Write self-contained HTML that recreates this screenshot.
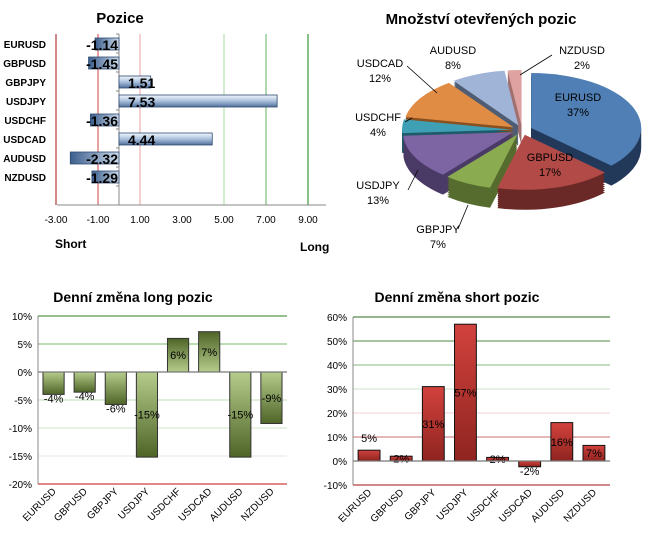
<!DOCTYPE html>
<html><head><meta charset="utf-8"><style>
html,body{margin:0;padding:0;background:#fff;}
svg{display:block;font-family:"Liberation Sans",sans-serif;}
</style></head><body>
<svg id="s" width="653" height="538" viewBox="0 0 653 538">
<defs>
<linearGradient id="gBlue" x1="0" y1="0" x2="0" y2="1"><stop offset="0" stop-color="#f4f8fc"/><stop offset="0.5" stop-color="#a9c1dd"/><stop offset="1" stop-color="#4f6f9a"/></linearGradient>
<linearGradient id="gBlueN" x1="0" y1="0" x2="1" y2="0"><stop offset="0" stop-color="#3d5f8d"/><stop offset="1" stop-color="#c9d8ea"/></linearGradient>
<linearGradient id="gGreen" x1="0" y1="0" x2="0" y2="1"><stop offset="0" stop-color="#b6cc8c"/><stop offset="1" stop-color="#4f6528"/></linearGradient>
<linearGradient id="gGreenN" x1="0" y1="0" x2="0" y2="1"><stop offset="0" stop-color="#4f6528"/><stop offset="1" stop-color="#b6cc8c"/></linearGradient>
<linearGradient id="gRed" x1="0" y1="0" x2="0" y2="1"><stop offset="0" stop-color="#d2423d"/><stop offset="1" stop-color="#8f2420"/></linearGradient>
</defs>
<g id="pos"></g>
<g id="pie"></g>
<g id="lng"></g>
<g id="sht"></g>
</svg>
<script>
const NS="http://www.w3.org/2000/svg";
const posCats=["EURUSD","GBPUSD","GBPJPY","USDJPY","USDCHF","USDCAD","AUDUSD","NZDUSD"];
const posVals=[-1.14,-1.45,1.51,7.53,-1.36,4.44,-2.32,-1.29];
const posTicks=[-3,-1,1,3,5,7,9];
const pieCats=["EURUSD","GBPUSD","GBPJPY","USDJPY","USDCHF","USDCAD","AUDUSD","NZDUSD"];
const pieVals=[37,17,7,13,4,12,8,2];
const longVals=[-4,-3.6,-5.8,-15.2,6,7.2,-15.2,-9.2];
const longTicks=[10,5,0,-5,-10,-15,-20];
const shortVals=[4.5,2,31,57,1.5,-2.4,16,6.5];
const shortTicks=[60,50,40,30,20,10,0,-10];

function el(p,t,a,txt){const e=document.createElementNS(NS,t);for(const k in a)e.setAttribute(k,a[k]);if(txt!==undefined)e.textContent=txt;p.appendChild(e);return e;}

// ---- Positions chart
(function(){
const g=document.getElementById('pos');
const x=v=>119+v*21;
const y=i=>44+i*19;
let t=el(g,'text',{x:120,y:23,'font-size':15,'font-weight':'bold','text-anchor':'middle'},'Pozice');

const lineCol={"-3":"#a01010","-1":"#d04040","1":"#e8a0a0","3":"none","5":"#a8d8a0","7":"#60b060","9":"#108010"};
posTicks.forEach(v=>{
 const c=lineCol[String(v)];
 if(c!=="none"){let l=el(g,'line',{x1:x(v),x2:x(v),y1:34,y2:205,stroke:c,'stroke-width':1});}
 let tl=el(g,'text',{x:x(v),y:223,'font-size':10,'text-anchor':'middle'},v.toFixed(2));
 
});
el(g,'line',{x1:57,x2:326,y1:205,y2:205,stroke:'#888'});
el(g,'line',{x1:119,x2:119,y1:34,y2:205,stroke:'#888'});
for(let i=0;i<=9;i++)el(g,'line',{x1:116,x2:119,y1:34+i*19,y2:34+i*19,stroke:'#888'});
posCats.forEach((c,i)=>{
 let l=el(g,'text',{x:46,y:y(i)+4,'font-size':10,'font-weight':'bold','text-anchor':'end'},c);
 
 const v=posVals[i];const x0=Math.min(x(0),x(v)),w=Math.abs(x(v)-x(0));
 let b=el(g,'rect',{x:x0,y:y(i)-6,width:w,height:12,fill:v<0?'url(#gBlueN)':'url(#gBlue)',stroke:'#2f4a70','stroke-width':0.8});
 
 let vl=el(g,'text',{x:v<0?118:128,y:y(i)+6,'font-size':14,'font-weight':'bold','text-anchor':v<0?'end':'start'},v.toFixed(2));
 
});
let s=el(g,'text',{x:55,y:248,'font-size':12,'font-weight':'bold'},'Short');
let lg=el(g,'text',{x:300,y:251,'font-size':12,'font-weight':'bold'},'Long');
})();

// ---- Pie
(function(){
const g=document.getElementById('pie');
let t=el(g,'text',{x:481,y:24,'font-size':15,'font-weight':'bold','text-anchor':'middle'},'Množství otevřených pozic');

const top=['#4f7fb4','#b24b47','#8aab50','#7d65a4','#3e9fb5','#e08c45','#9fb4d6','#e0a2a0'];
const side=['#23395a','#6a2826','#566c2e','#4a3a66','#1f5a68','#8a5020','#4f5d74','#a07070'];
const cx=522,cy=130,rx=110,ry=55,d=20,ex=10;
const total=pieVals.reduce((a,b)=>a+b,0);
let a0=0;const sl=[];
pieVals.forEach((v,i)=>{const a1=a0+v/total*2*Math.PI;sl.push([a0,a1]);a0=a1;});
function path(i,dy){const [s,e]=sl[i];const m=(s+e)/2;const ox=cx+ex*Math.sin(m),oy=cy-ex*0.5*Math.cos(m)+dy;
 const p=a=>[ox+rx*Math.sin(a),oy-ry*Math.cos(a)];
 const P=p(s),Q=p(e);const large=(e-s)>Math.PI?1:0;
 return `M${ox},${oy}L${P[0]},${P[1]}A${rx},${ry} 0 ${large} 1 ${Q[0]},${Q[1]}Z`;}
for(let dy=d;dy>0;dy-=2)pieVals.forEach((v,i)=>el(g,'path',{d:path(i,dy),fill:side[i]}));
pieVals.forEach((v,i)=>{let p=el(g,'path',{d:path(i,0),fill:top[i]});});
const lab=[[578,97],[550,157],[438,229],[378,185],[378,117],[380,63],[453,50],[582,50]];
pieCats.forEach((c,i)=>{
 let a=el(g,'text',{x:lab[i][0],y:lab[i][1]+4,'font-size':11,'text-anchor':'middle'},c);
 let b=el(g,'text',{x:lab[i][0],y:lab[i][1]+19,'font-size':11,'text-anchor':'middle'},pieVals[i]+'%');
});
[[407,66,437,93],[552,55,520,75],[412,118,405,122],[408,190,418,170],[458,229,468,205]].forEach(l=>el(g,'line',{x1:l[0],y1:l[1],x2:l[2],y2:l[3],stroke:'#000','stroke-width':0.8}));
})();

// ---- Column charts
function columns(id,title,tx,vals,ticks,L,R,T,B,gridCols,fill,fillN,stroke){
 const g=document.getElementById(id);
 const vmax=ticks[0],vmin=ticks[ticks.length-1];
 const y=v=>T+(vmax-v)/(vmax-vmin)*(B-T);
 let t=el(g,'text',{x:tx,y:302,'font-size':14,'font-weight':'bold','text-anchor':'middle'},title);
 
 ticks.forEach((v,i)=>{
  let l=el(g,'line',{x1:L,x2:R,y1:y(v),y2:y(v),stroke:gridCols[i],'stroke-width':1});
  let tl=el(g,'text',{x:L-6,y:y(v)+4,'font-size':10,'text-anchor':'end'},v+'%');
 });
 el(g,'line',{x1:L,x2:L,y1:T,y2:B,stroke:'#888'});
 const bw=(R-L)/vals.length;
 vals.forEach((v,i)=>{
  const x0=L+i*bw+bw*0.16,w=bw*0.68;
  const y0=Math.min(y(0),y(v)),h=Math.abs(y(v)-y(0));
  let b=el(g,'rect',{x:x0,y:y0,width:w,height:h,fill:v<0?fillN:fill,stroke:stroke,'stroke-width':1});
  
  let ly=y((v)/2)+4;
  if(Math.abs(v)<8 && v<0)ly=y(v)+8;
  if(v>3&&v<5)ly=y(v)-8;
  let vl=el(g,'text',{x:x0+w/2,y:ly,'font-size':11,'text-anchor':'middle'},Math.round(v)+'%');
  
  const cx=L+i*bw+bw/2+3,cy=B+8;
  let xl=el(g,'text',{x:cx,y:cy,'font-size':10,'text-anchor':'end',transform:`rotate(-45 ${cx} ${cy})`},posCats[i]);
  
 });
 el(g,'line',{x1:L,x2:R,y1:y(0),y2:y(0),stroke:'#777','stroke-width':1.2});
}
columns('lng','Denní změna long pozic',133,longVals,longTicks,38,287,316,484,
 ['#2e7d1e','#7ab86a','#999','#bfe0b4','#cfe6c6','#e6e6e6','#c01010'],'url(#gGreenN)','url(#gGreen)','#333');
columns('sht','Denní změna short pozic',457,shortVals,shortTicks,353,610,317,485,
 ['#2e6e1e','#4e8a40','#8ab87e','#cce0c8','#f0d0d0','#c87070','#888','#a01010'],'url(#gRed)','url(#gRed)','#111');
</script>
</body></html>
